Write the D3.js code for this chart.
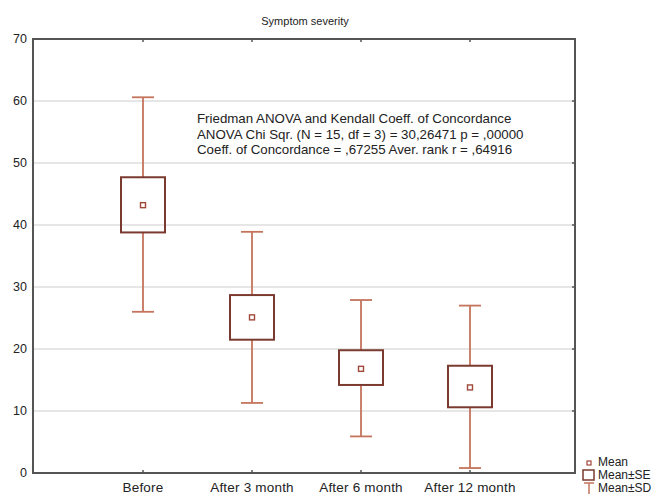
<!DOCTYPE html>
<html>
<head>
<meta charset="utf-8">
<script src="https://cdn.jsdelivr.net/npm/d3@7"></script>
<style>
  body { margin: 0; background: #fff; }
  text { font-family: "Liberation Sans", Arial, sans-serif; fill: #222; }
</style>
</head>
<body>
<script>
'use strict';

// chart values
var categories = ["Before", "After 3 month", "After 6 month", "After 12 month"];
var means  = [43.2, 25.1, 16.8, 13.8];
var seLow  = [38.8, 21.5, 14.2, 10.6];
var seHigh = [47.7, 28.7, 19.8, 17.3];
var sdLow  = [26.0, 11.3, 5.9, 0.8];
var sdHigh = [60.6, 38.9, 27.9, 27.0];
var yTicks = [0, 10, 20, 30, 40, 50, 60, 70];
var statLines = [
  "Friedman ANOVA and Kendall Coeff. of Concordance",
  "ANOVA Chi Sqr. (N = 15, df = 3) = 30,26471 p = ,00000",
  "Coeff. of Concordance = ,67255 Aver. rank r = ,64916"
];
var legendItems = ["Mean", "Mean\u00b1SE", "Mean\u00b1SD"];

(function() {

  var width = 660, height = 495;
  var left = 33, right = 575, top = 39, bottom = 473;

  var boxColor = "#7b3a30";
  var whiskerColor = "#c4745c";

  var svg = d3.select("body")
      .append("svg")
      .attr("width", width)
      .attr("height", height);

  // categories sit at 1..4 on a 0..5 scale
  var x = d3.scaleLinear()
      .domain([0, categories.length + 1])
      .range([left + 1, right + 4]);

  var y = d3.scaleLinear()
      .domain([0, 70])
      .range([bottom, top]);

  // title
  svg.append("text")
      .attr("x", 305)
      .attr("y", 25)
      .attr("text-anchor", "middle")
      .style("font-size", "11px")
      .text("Symptom severity");

  // grid lines
  svg.append("g")
      .selectAll("line")
      .data(yTicks.filter(function(d) { return d > 0 && d < 70; }))
      .enter()
      .append("line")
      .attr("x1", left)
      .attr("x2", right)
      .attr("y1", function(d) { return y(d); })
      .attr("y2", function(d) { return y(d); })
      .attr("stroke", "#e6e6e6")
      .attr("stroke-width", 2);

  // y axis labels
  svg.append("g")
      .selectAll("text")
      .data(yTicks)
      .enter()
      .append("text")
      .attr("x", left - 6)
      .attr("y", function(d) { return y(d) + 4; })
      .attr("text-anchor", "end")
      .style("font-size", "12.5px")
      .text(function(d) { return d; });

  // small inner ticks on top/bottom borders and right border
  var tickG = svg.append("g")
      .attr("stroke", "#555")
      .attr("stroke-width", 1.5);
  categories.forEach(function(c, i) {
    var cx = x(i + 1);
    tickG.append("line").attr("x1", cx).attr("x2", cx).attr("y1", bottom).attr("y2", bottom - 3);
    tickG.append("line").attr("x1", cx).attr("x2", cx).attr("y1", top).attr("y2", top + 3);
  });
  yTicks.forEach(function(t) {
    tickG.append("line").attr("x1", right).attr("x2", right - 3).attr("y1", y(t)).attr("y2", y(t));
  });

  // x labels
  svg.append("g")
      .selectAll("text")
      .data(categories)
      .enter()
      .append("text")
      .attr("x", function(d, i) { return x(i + 1); })
      .attr("y", 492)
      .attr("text-anchor", "middle")
      .style("font-size", "13.5px")
      .style("letter-spacing", "0.2px")
      .text(function(d) { return d; });

  // whiskers (mean +- SD)
  var wg = svg.append("g")
      .attr("stroke", whiskerColor)
      .attr("stroke-width", 1.8)
      .attr("fill", "none");
  categories.forEach(function(c, i) {
    var cx = x(i + 1);
    wg.append("line").attr("x1", cx).attr("x2", cx).attr("y1", y(sdHigh[i])).attr("y2", y(seHigh[i]));
    wg.append("line").attr("x1", cx).attr("x2", cx).attr("y1", y(seLow[i])).attr("y2", y(sdLow[i]));
    wg.append("line").attr("x1", cx - 11).attr("x2", cx + 11).attr("y1", y(sdHigh[i])).attr("y2", y(sdHigh[i]));
    wg.append("line").attr("x1", cx - 11).attr("x2", cx + 11).attr("y1", y(sdLow[i])).attr("y2", y(sdLow[i]));
  });

  // boxes (mean +- SE)
  svg.append("g")
      .selectAll("rect")
      .data(categories)
      .enter()
      .append("rect")
      .attr("x", function(d, i) { return x(i + 1) - 22; })
      .attr("width", 44)
      .attr("y", function(d, i) { return y(seHigh[i]); })
      .attr("height", function(d, i) { return y(seLow[i]) - y(seHigh[i]); })
      .attr("fill", "none")
      .attr("stroke", boxColor)
      .attr("stroke-width", 2);

  // mean markers
  svg.append("g")
      .selectAll("rect")
      .data(means)
      .enter()
      .append("rect")
      .attr("x", function(d, i) { return x(i + 1) - 2.5; })
      .attr("y", function(d) { return y(d) - 2.5; })
      .attr("width", 5)
      .attr("height", 5)
      .attr("fill", "none")
      .attr("stroke", "#a0483a")
      .attr("stroke-width", 1.4);

  // frame
  svg.append("rect")
      .attr("x", left)
      .attr("y", top)
      .attr("width", right - left)
      .attr("height", bottom - top)
      .attr("fill", "none")
      .attr("stroke", "#555")
      .attr("stroke-width", 2);

  // statistics text
  svg.append("g")
      .selectAll("text")
      .data(statLines)
      .enter()
      .append("text")
      .attr("x", 197)
      .attr("y", function(d, i) { return 123 + i * 15.5; })
      .style("font-size", "13.3px")
      .text(function(d) { return d; });

  // legend
  var lg = svg.append("g");
  var ly = [466, 479, 492];
  lg.append("rect").attr("x", 587).attr("y", ly[0] - 5).attr("width", 4).attr("height", 4)
      .attr("fill", "none").attr("stroke", "#a0483a").attr("stroke-width", 1.2);
  lg.append("rect").attr("x", 583).attr("y", ly[1] - 9).attr("width", 11).attr("height", 10)
      .attr("fill", "none").attr("stroke", boxColor).attr("stroke-width", 1.5);
  lg.append("line").attr("x1", 584).attr("x2", 594).attr("y1", ly[2] - 9).attr("y2", ly[2] - 9)
      .attr("stroke", whiskerColor).attr("stroke-width", 1.5);
  lg.append("line").attr("x1", 589).attr("x2", 589).attr("y1", ly[2] - 9).attr("y2", ly[2] + 2)
      .attr("stroke", whiskerColor).attr("stroke-width", 1.5);
  lg.selectAll("text")
      .data(legendItems)
      .enter()
      .append("text")
      .attr("x", 598)
      .attr("y", function(d, i) { return ly[i]; })
      .style("font-size", "12px")
      .text(function(d) { return d; });

})();
</script>
</body>
</html>
